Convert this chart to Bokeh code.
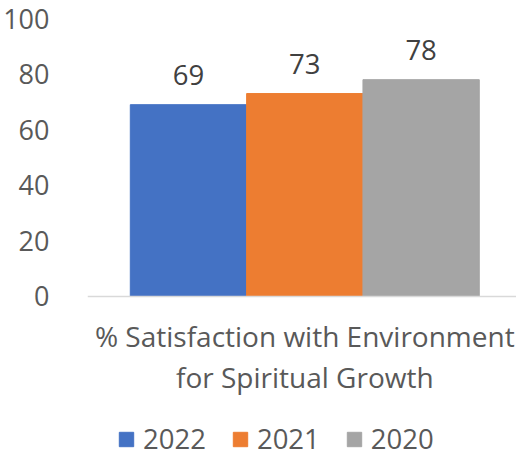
from bokeh.plotting import figure
from bokeh.models import (Range1d, FixedTicker, ColumnDataSource, LabelSet, Label,
                          Legend, LegendItem, LinearAxis, Span)
from bokeh.core.properties import value
from bokeh.embed import file_html
from bokeh.resources import INLINE

category_lines = ["% Satisfaction with Environment", "for Spiritual Growth"]
years = ["2022", "2021", "2020"]
values = [69, 73, 78]
colors = ["#4472C4", "#ED7D31", "#A5A5A5"]
y_ticks = [0, 20, 40, 60, 80, 100]

FONT = "Open Sans"
FS = "27.5px"

xs = list(range(len(years)))
src = ColumnDataSource(dict(x=xs, top=values, year=years, color=colors,
                            lab=[str(v) for v in values]))

p = figure(frame_width=429, frame_height=432, output_backend="svg", toolbar_location=None,
           x_range=Range1d(-0.868, 2.82), y_range=Range1d(-55.4, 100),
           min_border_left=79, min_border_right=0, min_border_top=18,
           min_border_bottom=0, x_axis_location=None, y_axis_location=None)
p.outline_line_color = None
p.xgrid.visible = False
p.ygrid.visible = False

r = p.vbar(x="x", top="top", bottom=0, width=1.0, color="color", source=src)

baseline = Span(location=0, dimension="width", line_color="#D9D9D9", line_width=1.5)
p.add_layout(baseline)

labels = LabelSet(x="x", y="top", text="lab", source=src, y_offset=20,
                  text_align="center", text_baseline="alphabetic",
                  text_font=value(FONT), text_font_size=value(FS),
                  text_color="#404040")
p.add_layout(labels)

yaxis = LinearAxis(ticker=FixedTicker(ticks=y_ticks))
yaxis.axis_line_color = None
yaxis.major_tick_line_color = None
yaxis.minor_tick_line_color = None
yaxis.major_label_standoff = 32
yaxis.major_label_text_font = FONT
yaxis.major_label_text_font_size = "27px"
yaxis.major_label_text_color = "#595959"
p.add_layout(yaxis, "left")

# category label (two lines) centred under the group of bars
center_x = sum(xs) / len(xs)
for line, off in zip(category_lines, [-40, -81]):
    p.add_layout(Label(x=center_x, y=0, y_offset=off, text=line,
                       text_align="center", text_baseline="middle",
                       text_font=FONT, text_font_size="28px",
                       text_color="#595959"))

items = [LegendItem(label=years[i], renderers=[r], index=i) for i in range(len(years))]
legend = Legend(items=items, orientation="horizontal", location=(30, -7),
                glyph_width=18, glyph_height=18, label_standoff=8, spacing=25,
                label_text_font=FONT, label_text_font_size=FS,
                label_text_color="#595959", border_line_color=None,
                background_fill_alpha=0, padding=0, margin=0)
p.add_layout(legend, "center")

open("out.html", "w").write(file_html(p, INLINE))
